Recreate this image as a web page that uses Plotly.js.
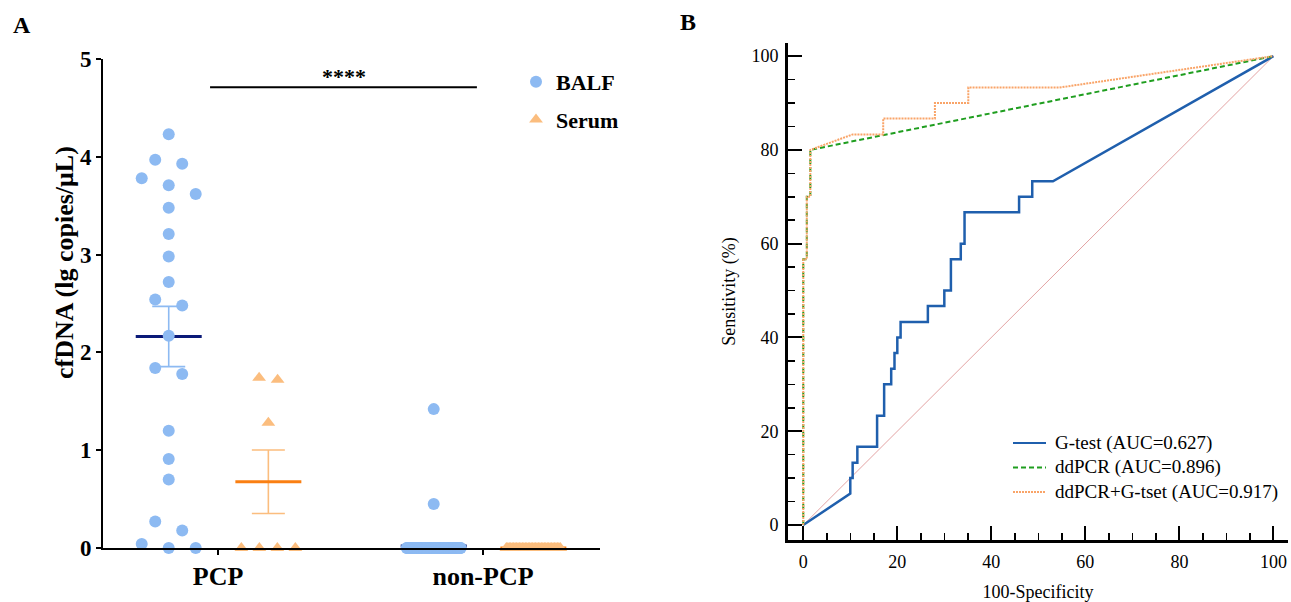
<!DOCTYPE html>
<html>
<head>
<meta charset="utf-8">
<script src="https://cdn.plot.ly/plotly-3.0.1.min.js"></script>
<style>html,body{margin:0;padding:0;background:#fff;}</style>
</head>
<body>
<div id="chart" style="width:1291px;height:602px;"></div>
<script>
// ---------- Panel A: cfDNA (lg copies/μL) by group and sample type ----------
const groups = ['PCP', 'non-PCP'];
const balfPcp = [4.23, 3.97, 3.93, 3.78, 3.71, 3.62, 3.48, 3.21, 2.98, 2.72, 2.54, 2.48,
                 2.17, 1.84, 1.78, 1.20, 0.91, 0.70, 0.27, 0.18, 0.04, 0, 0];
const serumPcp = [1.74, 1.72, 1.28, 0, 0, 0, 0];
const balfNonPcp = [1.42, 0.45,
  0, 0, 0, 0, 0, 0, 0, 0, 0, 0, 0, 0, 0, 0, 0, 0, 0, 0, 0, 0, 0, 0, 0, 0, 0, 0, 0, 0, 0, 0, 0,
  0, 0, 0, 0, 0, 0, 0, 0, 0, 0, 0, 0, 0, 0, 0, 0, 0, 0, 0, 0, 0, 0, 0, 0, 0, 0, 0, 0, 0, 0, 0,
  0, 0, 0, 0, 0, 0, 0, 0, 0, 0, 0, 0, 0, 0, 0, 0, 0, 0, 0, 0, 0, 0, 0, 0, 0, 0, 0, 0, 0, 0, 0];
const serumNonPcp = [
  0, 0, 0, 0, 0, 0, 0, 0, 0, 0, 0, 0, 0, 0, 0, 0, 0, 0, 0,
  0, 0, 0, 0, 0, 0, 0, 0, 0, 0, 0, 0, 0, 0, 0, 0, 0, 0, 0];
const sampleNames = ['BALF', 'Serum'];
const significance = '****';

// ---------- Panel B: ROC curves (100-Specificity %, Sensitivity %) ----------
const gtestX = [0, 10, 10, 10.5, 10.5, 11.5, 11.5, 15.7, 15.7, 17.2, 17.2, 18.7, 18.7, 19.4, 19.4,
                20, 20, 20.7, 20.7, 26.5, 26.5, 30, 30, 31.4, 31.4, 33.5, 33.5, 34.3, 34.3,
                45.9, 45.9, 48.7, 48.7, 53.1, 100];
const gtestY = [0, 6.7, 10, 10, 13.3, 13.3, 16.7, 16.7, 23.3, 23.3, 30, 30, 33.3, 33.3, 36.7,
                36.7, 40, 40, 43.3, 43.3, 46.7, 46.7, 50, 50, 56.7, 56.7, 60, 60, 66.7,
                66.7, 70, 70, 73.3, 73.3, 100];
const ddpcrX = [0, 0, 0.75, 0.75, 1.5, 1.5, 100];
const ddpcrY = [0, 56.7, 56.7, 70, 70, 80, 100];
const comboX = [0, 0, 0.75, 0.75, 1.5, 1.5, 10.5, 17, 17, 28, 28, 35.1, 35.1, 54.5, 100];
const comboY = [0, 56.7, 56.7, 70, 70, 80, 83.3, 83.3, 86.7, 86.7, 90, 90, 93.3, 93.3, 100];
const chanceX = [0, 100];
const chanceY = [0, 100];
const rocNames = ['G-test (AUC=0.627)', 'ddPCR (AUC=0.896)', 'ddPCR+G-tset (AUC=0.917)'];

// ---------- styling ----------
const W = 1291, H = 602;
const SERIF = "'Liberation Serif', 'Times New Roman', Times, serif";
const BALF_COLOR = '#8dbaf2', BALF_MEAN = '#0b1a78';
const SERUM_COLOR = '#fbbd7e', SERUM_MEAN = '#fa7f12';
const PX_PER_CAT = 265;           // pixel distance between the two group centres
const BALF_SHIFT = -0.186, SERUM_SHIFT = 0.19;
const ROC_LINES = [
  {color: '#1f5fad', width: 2.5},
  {color: '#1f9e1f', width: 2, dash: '5px,3px'},
  {color: '#f9a468', width: 2, dash: '2px,1px'}
];

// Column scatter: values close together share a row and are spread sideways.
function swarm(values, center, spacingPx, maxSpanPx) {
  const order = values.map((v, i) => i).sort((a, b) => values[b] - values[a]);
  const xs = new Array(values.length);
  let i = 0;
  while (i < order.length) {
    const top = values[order[i]];
    let j = i;
    while (j < order.length && top - values[order[j]] <= 0.17) j++;
    const n = j - i;
    const sp = n > 1 ? Math.min(spacingPx, maxSpanPx / (n - 1)) : 0;
    for (let k = 0; k < n; k++) xs[order[i + k]] = center + (k - (n - 1) / 2) * sp / PX_PER_CAT;
    i = j;
  }
  return xs;
}
function meanSem(a) {
  const n = a.length;
  const m = a.reduce((s, v) => s + v, 0) / n;
  const sd = Math.sqrt(a.reduce((s, v) => s + (v - m) * (v - m), 0) / (n - 1));
  return [m, sd / Math.sqrt(n)];
}

const balfSets = [balfPcp, balfNonPcp];
const serumSets = [serumPcp, serumNonPcp];
const traces = [];

// mean ± SEM for every group (drawn beneath the points)
function summary(sets, shift, lineColor, barColor) {
  sets.forEach((vals, g) => {
    const c = g + 1 + shift;
    const [m, sem] = meanSem(vals);
    traces.push({x: [c], y: [m], xaxis: 'x', yaxis: 'y', type: 'scatter', mode: 'markers',
      marker: {size: 1, color: 'rgba(0,0,0,0)'}, showlegend: false, hoverinfo: 'skip', cliponaxis: false,
      error_y: {type: 'data', array: [sem], color: barColor, thickness: 1.6, width: 16.5}});
    traces.push({x: [c - 0.1245, c + 0.1245], y: [m, m], xaxis: 'x', yaxis: 'y', type: 'scatter',
      mode: 'lines', line: {color: lineColor, width: 3}, showlegend: false, hoverinfo: 'skip', cliponaxis: false});
  });
}
summary(balfSets, BALF_SHIFT, BALF_MEAN, BALF_COLOR);
summary(serumSets, SERUM_SHIFT, SERUM_MEAN, SERUM_COLOR);

// individual values
function points(sets, shift, spacing, name, symbol, color, size) {
  const xs = [], ys = [];
  sets.forEach((vals, g) => {
    const px = swarm(vals, g + 1 + shift, spacing, 54);
    vals.forEach((v, i) => { xs.push(px[i]); ys.push(v); });
  });
  traces.push({x: xs, y: ys, xaxis: 'x', yaxis: 'y', type: 'scatter', mode: 'markers', name: name,
    legend: 'legend', legendgroup: name, cliponaxis: false,
    marker: {symbol: symbol, size: size, color: color, line: {width: 0}}});
}
points(balfSets, BALF_SHIFT, 27, sampleNames[0], 'circle', BALF_COLOR, 12);
points(serumSets, SERUM_SHIFT, 18.5, sampleNames[1], 'triangle-up', SERUM_COLOR, 12);

// ROC curves
traces.push({x: chanceX, y: chanceY, xaxis: 'x2', yaxis: 'y2', type: 'scatter', mode: 'lines',
  line: {color: '#e3a3a3', width: 1}, showlegend: false, hoverinfo: 'skip'});
[[gtestX, gtestY], [ddpcrX, ddpcrY], [comboX, comboY]].forEach(([xs, ys], k) => {
  traces.push({x: xs, y: ys, xaxis: 'x2', yaxis: 'y2', type: 'scatter', mode: 'lines',
    name: rocNames[k], showlegend: false, line: ROC_LINES[k]});
});

// compact key for the ROC panel (line sample + label per curve)
const keyShapes = [], keyLabels = [];
rocNames.forEach((name, k) => {
  const yPx = 443 + k * 24.5;
  keyShapes.push({type: 'line', xref: 'paper', yref: 'paper', x0: 1013 / W, x1: 1046 / W,
    y0: 1 - yPx / H, y1: 1 - yPx / H, line: Object.assign({}, ROC_LINES[k], {width: 2})});
  keyLabels.push({text: name, xref: 'paper', yref: 'paper', x: 1053 / W, y: 1 - yPx / H,
    xanchor: 'left', yanchor: 'middle', showarrow: false, font: {family: SERIF, size: 19}});
});

const layout = {
  width: W, height: H,
  margin: {l: 0, r: 0, t: 0, b: 0},
  paper_bgcolor: '#ffffff', plot_bgcolor: 'rgba(0,0,0,0)',
  font: {family: SERIF, color: '#000'},
  xaxis: {domain: [103 / W, 600 / W], range: [0.566, 2.4415], tickmode: 'array', tickvals: [1, 2],
    ticktext: groups, showline: true, linewidth: 2, linecolor: '#000', ticks: 'outside', ticklen: 5,
    tickwidth: 2, tickcolor: '#000', ticklabelstandoff: -1,
    tickfont: {family: SERIF, size: 26, weight: 'bold'},
    showgrid: false, zeroline: false, fixedrange: true},
  yaxis: {domain: [54 / H, 543 / H], range: [0, 5], tickmode: 'array', tickvals: [0, 1, 2, 3, 4, 5],
    showline: true, linewidth: 2, linecolor: '#000', ticks: 'outside', ticklen: 5, tickwidth: 2,
    tickcolor: '#000', tickfont: {family: SERIF, size: 23, weight: 'bold'},
    showgrid: false, zeroline: false, fixedrange: true},
  xaxis2: {domain: [788 / W, 1288 / W], range: [-3.25, 103.1], anchor: 'y2', tickmode: 'linear',
    tick0: 0, dtick: 20, ticks: 'inside', ticklen: 14, tickwidth: 2, tickcolor: '#000',
    minor: {ticks: 'inside', ticklen: 7, tickwidth: 1.5, tickcolor: '#000', dtick: 5, tick0: 0},
    showline: true, linewidth: 3, linecolor: '#000', ticklabelstandoff: 3,
    tickfont: {family: SERIF, size: 18},
    title: {text: '100-Specificity', font: {family: SERIF, size: 18}, standoff: 20},
    showgrid: false, zeroline: false, fixedrange: true},
  yaxis2: {domain: [62 / H, 559 / H], range: [-3.2, 102.8], anchor: 'x2', tickmode: 'linear',
    tick0: 0, dtick: 20, ticks: 'inside', ticklen: 14, tickwidth: 2, tickcolor: '#000',
    minor: {ticks: 'inside', ticklen: 7, tickwidth: 1.5, tickcolor: '#000', dtick: 5, tick0: 0},
    showline: true, linewidth: 3, linecolor: '#000', ticklabelstandoff: 3,
    tickfont: {family: SERIF, size: 18},
    title: {text: 'Sensitivity (%)', font: {family: SERIF, size: 18}, standoff: 12},
    showgrid: false, zeroline: false, fixedrange: true},
  legend: {x: 516 / W, y: 1 - 61 / H, xanchor: 'left', yanchor: 'top', bgcolor: 'rgba(0,0,0,0)',
    traceorder: 'grouped', tracegroupgap: 6,
    font: {family: SERIF, size: 22, weight: 'bold'}},
  shapes: [{type: 'line', xref: 'x', yref: 'y', x0: 0.97, x1: 1.977, y0: 4.71, y1: 4.71,
    line: {color: '#000', width: 2}}].concat(keyShapes),
  annotations: [
    {text: significance, xref: 'x', yref: 'y', x: 1.475, y: 4.71, xanchor: 'center', yanchor: 'bottom',
      yshift: -4, showarrow: false, font: {family: SERIF, size: 22, weight: 'bold'}},
    {text: 'cfDNA (lg copies/μL)', xref: 'paper', yref: 'paper', x: 65 / W, y: 1 - 263 / H,
      xanchor: 'center', yanchor: 'middle', textangle: -90, showarrow: false,
      font: {family: SERIF, size: 26, weight: 'bold'}},
    {text: 'A', xref: 'paper', yref: 'paper', x: 21.5 / W, y: 1 - 25 / H, xanchor: 'center',
      yanchor: 'middle', showarrow: false, font: {family: SERIF, size: 24, weight: 'bold'}},
    {text: 'B', xref: 'paper', yref: 'paper', x: 688 / W, y: 1 - 22 / H, xanchor: 'center',
      yanchor: 'middle', showarrow: false, font: {family: SERIF, size: 24, weight: 'bold'}}
  ].concat(keyLabels)
};

Plotly.newPlot('chart', traces, layout, {displayModeBar: false, staticPlot: true});
</script>
</body>
</html>
